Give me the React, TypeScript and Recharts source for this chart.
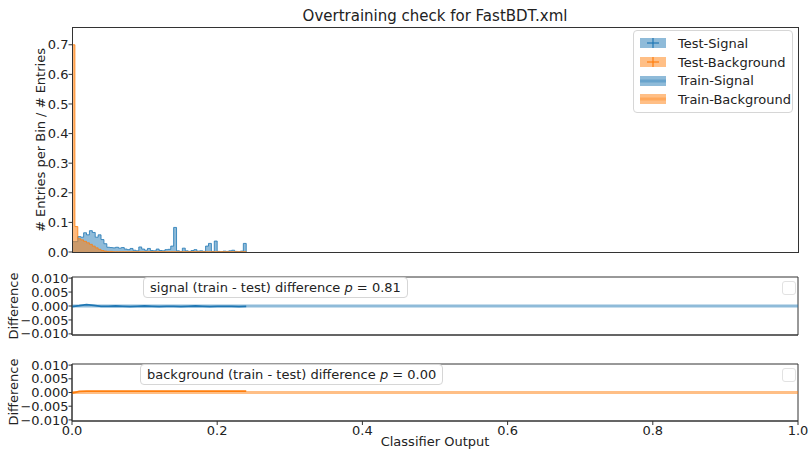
import { Area, ComposedChart, Line, ReferenceArea, ReferenceLine, XAxis, YAxis } from "recharts";

const BLUE = "#1f77b4";
const ORANGE = "#ff7f0e";
const FONT = "DejaVu Sans, sans-serif";

// classifier output histograms: 60 bins of width 0.004 starting at 0
const BIN_WIDTH = 0.004;
const testSignal = [
  0.035, 0.035, 0.052, 0.05, 0.065, 0.058, 0.072, 0.066, 0.05, 0.058,
  0.042, 0.028, 0.016, 0.015, 0.014, 0.016, 0.013, 0.015, 0.01, 0.008,
  0.012, 0.006, 0.004, 0.017, 0.01, 0.006, 0.012, 0.005, 0.004, 0.01,
  0.005, 0.004, 0.008, 0.009, 0.02, 0.083, 0.004, 0.002, 0.013, 0.004,
  0.002, 0.005, 0.008, 0.003, 0.004, 0.002, 0.02, 0.029, 0.002, 0.037,
  0.002, 0.001, 0.003, 0.002, 0.004, 0.006, 0.002, 0.001, 0.003, 0.029,
];
const testBackground = [
  0.7, 0.086, 0.045, 0.041, 0.036, 0.031, 0.026, 0.02, 0.014, 0.009,
  0.005, 0.003, 0.002, 0.002, 0.001, 0.001, 0.001, 0.001, 0.001, 0.001,
  0.001, 0.001, 0.001, 0.001, 0.001, 0.001, 0.001, 0.001, 0.001, 0.001,
  0.001, 0.001, 0.001, 0.001, 0.001, 0.001, 0.001, 0.001, 0.001, 0.001,
  0.001, 0.001, 0.001, 0.001, 0.001, 0.001, 0.001, 0.001, 0.001, 0.001,
  0.001, 0.001, 0.001, 0.001, 0.001, 0.001, 0.001, 0.001, 0.001, 0.001,
];

// train - test differences, sampled every 0.01 from 0 to 0.24
const DIFF_STEP = 0.01;
const signalDiff = [
  -0.0002, 0.0001, 0.0005, 0.0002, -0.0001, -0.0001, 0.0, -0.0001, -0.0002, -0.0001,
  0.0, -0.0001, -0.0002, -0.0001, -0.0001, -0.0002, -0.0001, 0.0, -0.0001, -0.0002,
  -0.0001, -0.0001, -0.0001, -0.0002, -0.0001,
];
const backgroundDiff = [
  -0.0002, 0.0004, 0.0005, 0.0005, 0.0005, 0.0005, 0.0005, 0.0005, 0.0005, 0.0005,
  0.0005, 0.0005, 0.0005, 0.0005, 0.0005, 0.0005, 0.0005, 0.0005, 0.0005, 0.0005,
  0.0005, 0.0005, 0.0005, 0.0005, 0.0005,
];

const xTicks = [0, 0.2, 0.4, 0.6, 0.8, 1.0];
const mainYTicks = [0, 0.1, 0.2, 0.3, 0.4, 0.5, 0.6, 0.7];
const diffYTicks = [-0.01, -0.005, 0, 0.005, 0.01];
const MAIN_Y_MAX = 0.76;
const DIFF_Y_MAX = 0.0104;

const histRows = testSignal.map((s, i) => ({ x: i * BIN_WIDTH, signal: s, background: testBackground[i] }));
histRows.push({ x: testSignal.length * BIN_WIDTH, signal: 0, background: 0 });

const signalDiffRows = signalDiff.map((d, i) => ({ x: i * DIFF_STEP, diff: d }));
const backgroundDiffRows = backgroundDiff.map((d, i) => ({ x: i * DIFF_STEP, diff: d }));

const tickStyle = { fontSize: 13, fill: "#222", fontFamily: FONT };
const fmtDiff = (v: number) => v.toFixed(3).replace("-", "\u2212");

const legendItems = [
  { name: "Test-Signal", color: BLUE, test: true },
  { name: "Test-Background", color: ORANGE, test: true },
  { name: "Train-Signal", color: BLUE, test: false },
  { name: "Train-Background", color: ORANGE, test: false },
];

function HistLegend() {
  return (
    <div
      style={{
        position: "absolute",
        left: 633,
        top: 30,
        width: 160,
        boxSizing: "border-box",
        border: "1px solid #d6d6d6",
        borderRadius: 4,
        background: "rgba(255,255,255,0.8)",
        padding: "3px 0 3px 6px",
        fontFamily: FONT,
        fontSize: 13,
        color: "#222",
        whiteSpace: "nowrap",
      }}
    >
      {legendItems.map((item) => (
        <div key={item.name} style={{ display: "flex", alignItems: "center", height: 18.7 }}>
          <svg width={26} height={10} style={{ marginRight: 12, flexShrink: 0 }}>
            <rect x={0} y={0} width={26} height={10} fill={item.color} fillOpacity={0.5} />
            {item.test ? (
              <>
                <line x1={7} x2={19} y1={5} y2={5} stroke={item.color} strokeWidth={1.2} />
                <line x1={13} x2={13} y1={0} y2={10} stroke={item.color} strokeWidth={1.2} />
              </>
            ) : (
              <line x1={0} x2={26} y1={5} y2={5} stroke={item.color} strokeOpacity={0.35} strokeWidth={3} />
            )}
          </svg>
          <span>{item.name}</span>
        </div>
      ))}
    </div>
  );
}

function DiffBox({ top, left, label, p }: { top: number; left: number; label: string; p: string }) {
  return (
    <>
      <div
        style={{
          position: "absolute",
          left,
          top,
          height: 19,
          lineHeight: "19px",
          padding: "0 6px",
          border: "1px solid #d6d6d6",
          borderRadius: 4,
          background: "rgba(255,255,255,0.8)",
          fontFamily: FONT,
          fontSize: 13,
          color: "#222",
          whiteSpace: "nowrap",
        }}
      >
        {label} difference <i>p</i> = {p}
      </div>
      <div
        style={{
          position: "absolute",
          left: 782,
          top: top + 4,
          width: 12,
          height: 12,
          border: "1px solid #e2e2e2",
          borderRadius: 3,
        }}
      />
    </>
  );
}

function VerticalLabel({ x, y, text }: { x: number; y: number; text: string }) {
  return (
    <div
      style={{
        position: "absolute",
        left: x,
        top: y,
        transform: "translate(-50%, -50%) rotate(-90deg)",
        fontFamily: FONT,
        fontSize: 13,
        color: "#222",
        whiteSpace: "nowrap",
      }}
    >
      {text}
    </div>
  );
}

function DiffPanel({ rows, color, top, height, showLabels }: { rows: { x: number; diff: number }[]; color: string; top: number; height: number; showLabels: boolean }) {
  return (
    <div style={{ position: "absolute", left: 0, top }}>
      <ComposedChart width={811} height={height} data={rows} margin={{ top: 7, right: 13, bottom: showLabels ? 0 : 3, left: 0 }}>
        <XAxis
          type="number"
          dataKey="x"
          domain={[0, 1]}
          ticks={xTicks}
          interval={0}
          tick={showLabels ? tickStyle : false}
          tickFormatter={(v: number) => v.toFixed(1)}
          tickSize={4}
          tickMargin={1}
          height={showLabels ? 24 : 10}
          stroke="#333"
        />
        <YAxis
          type="number"
          domain={[-DIFF_Y_MAX, DIFF_Y_MAX]}
          ticks={diffYTicks}
          interval={0}
          width={72}
          tick={tickStyle}
          tickFormatter={fmtDiff}
          tickSize={3.5}
          tickMargin={0}
          stroke="#333"
        />
        <ReferenceArea x1={0} x2={1} y1={-DIFF_Y_MAX} y2={DIFF_Y_MAX} fill="none" stroke="#333" strokeWidth={1} />
        <ReferenceLine y={0} stroke={color} strokeOpacity={0.5} strokeWidth={3} />
        <Line type="linear" dataKey="diff" stroke={color} strokeWidth={1.8} dot={false} isAnimationActive={false} />
      </ComposedChart>
    </div>
  );
}

export default function App() {
  return (
    <div style={{ position: "absolute", left: 0, top: 0, width: 811, height: 449, background: "#fff", fontFamily: FONT, overflow: "hidden" }}>
      <div
        style={{
          position: "absolute",
          left: 435,
          top: 16,
          transform: "translate(-50%, -50%)",
          fontSize: 15,
          color: "#222",
          whiteSpace: "nowrap",
        }}
      >
        Overtraining check for FastBDT.xml
      </div>

      {/* histogram panel; the box around its plot area (x 72..798, y 27..252) is a plain border */}
      <div style={{ position: "absolute", left: 0, top: 0 }}>
        <ComposedChart width={811} height={262} data={histRows} margin={{ top: 27, right: 13, bottom: 0, left: 0 }}>
          <XAxis type="number" dataKey="x" domain={[0, 1]} ticks={xTicks} interval={0} tick={false} axisLine={false} tickSize={4} height={10} stroke="#333" />
          <YAxis
            type="number"
            domain={[0, MAIN_Y_MAX]}
            ticks={mainYTicks}
            interval={0}
            width={72}
            tick={tickStyle}
            tickFormatter={(v: number) => v.toFixed(1)}
            axisLine={false}
            tickSize={3.5}
            tickMargin={0}
            stroke="#333"
          />
          <Area
            type="stepAfter"
            dataKey="signal"
            name="Test-Signal"
            fill={BLUE}
            fillOpacity={0.5}
            stroke={BLUE}
            strokeOpacity={0.8}
            strokeWidth={1}
            isAnimationActive={false}
          />
          <Area
            type="stepAfter"
            dataKey="background"
            name="Test-Background"
            fill={ORANGE}
            fillOpacity={0.55}
            stroke={ORANGE}
            strokeOpacity={0.8}
            strokeWidth={1}
            isAnimationActive={false}
          />
        </ComposedChart>
      </div>
      <div
        style={{
          position: "absolute",
          left: 72,
          top: 27,
          width: 727,
          height: 226,
          boxSizing: "border-box",
          border: "1px solid #333",
          pointerEvents: "none",
        }}
      />

      <HistLegend />

      <DiffPanel rows={signalDiffRows} color={BLUE} top={270} height={78} showLabels={false} />
      <DiffPanel rows={backgroundDiffRows} color={ORANGE} top={357} height={88} showLabels={true} />

      <DiffBox top={277} left={143} label="signal (train - test)" p="0.81" />
      <DiffBox top={364} left={140} label="background (train - test)" p="0.00" />

      <VerticalLabel x={40} y={140} text="# Entries per Bin / # Entries" />
      <VerticalLabel x={13} y={306} text="Difference" />
      <VerticalLabel x={13} y={392} text="Difference" />

      <div
        style={{
          position: "absolute",
          left: 435,
          top: 441,
          transform: "translate(-50%, -50%)",
          fontSize: 13,
          color: "#222",
          whiteSpace: "nowrap",
        }}
      >
        Classifier Output
      </div>
    </div>
  );
}
